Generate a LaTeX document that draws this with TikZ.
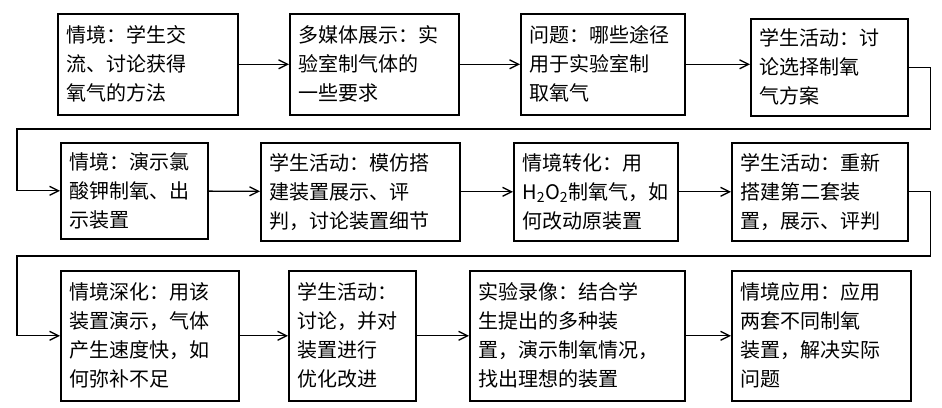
\documentclass[tikz,border=0pt]{standalone}
\usepackage{fontspec}
\setmainfont{Noto Sans CJK SC}
\usetikzlibrary{arrows.meta,calc}
\tikzset{
  bx/.style={draw,line width=1.6pt,anchor=north west,align=left,inner sep=0pt,
    font=\fontsize{20}{29}\selectfont},
  conn/.style={line width=1.3pt,-{Straight Barb[length=9pt,width=9pt]}},
  ln/.style={line width=1.3pt}
}
\newcommand{\boxat}[7]{% name, x1,y1,x2,y2, text
  \node[bx,minimum width=#4-#2,minimum height=#5-#3,text width=#4-#2-16] (#1) at (#2,#3) {};
  \node[anchor=west,align=left,font=\fontsize{20}{29}\selectfont,inner sep=0pt] at ($(#1.west)+(9,0)$) {#6};}
\begin{document}
\begin{tikzpicture}[x=1pt,y=-1pt]
\useasboundingbox (0,0) rectangle (942,407);
\boxat{b1}{57}{13}{237}{114}{情境：学生交\\流、讨论获得\\氧气的方法}{}
\boxat{b2}{289}{13}{458}{114}{多媒体展示：实\\验室制气体的\\一些要求}{}
\boxat{b3}{520}{13}{684}{114}{问题：哪些途径\\用于实验室制\\取氧气}{}
\boxat{b4}{750}{18}{907}{115}{学生活动：讨\\论选择制氧\\气方案}{}
\boxat{b5}{60}{142}{207}{238}{情境：演示氯\\酸钾制氧、出\\示装置}{}
\boxat{b6}{260}{142}{459}{240}{学生活动：模仿搭\\建装置展示、评\\判，讨论装置细节}{}
\boxat{b7}{513}{142}{677}{240}{情境转化：用\\H\textsubscript{2}O\textsubscript{2}制氧气，如\\何改动原装置}{}
\boxat{b8}{731}{142}{907}{240}{学生活动：重新\\搭建第二套装\\置，展示、评判}{}
\boxat{b9}{60}{270}{238}{400}{情境深化：用该\\装置演示，气体\\产生速度快，如\\何弥补不足}{}
\boxat{b10}{288}{270}{415}{400}{学生活动：\\讨论，并对\\装置进行\\优化改进}{}
\boxat{b11}{469}{270}{684}{400}{实验录像：结合学\\生提出的多种装\\置，演示制氧情况，\\找出理想的装置}{}
\boxat{b12}{731}{270}{910}{400}{情境应用：应用\\两套不同制氧\\装置，解决实际\\问题}{}
\draw[conn] (b1) -- (b2);
\draw[conn] (b2) -- (b3);
\draw[conn] (b3.east) -- (b3.east -| b4.west);
\draw[conn] (b4.east) -- ++(22,0) |- (17,129) |- (b5.west);
\draw[conn] (b5) -- (b6);
\draw[conn] (b6) -- (b7);
\draw[conn] (b7) -- (b8);
\draw[conn] (b8.east) -- ++(22,0) |- (17,256) |- (b9.west);
\draw[conn] (b9) -- (b10);
\draw[conn] (b10) -- (b11);
\draw[conn] (b11) -- (b12);
\end{tikzpicture}
\end{document}
